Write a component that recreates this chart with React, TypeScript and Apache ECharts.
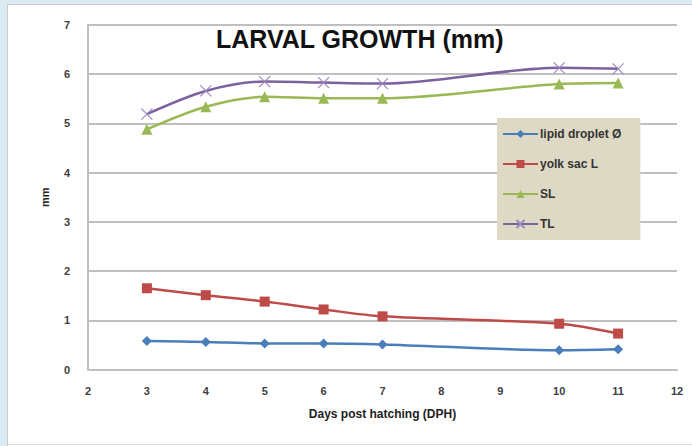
import React, { useEffect, useRef } from "react";
import * as echarts from "echarts";

const days = [3, 4, 5, 6, 7, 10, 11];
const lipidDroplet = [0.58, 0.56, 0.53, 0.53, 0.51, 0.39, 0.41];
const yolkSacL = [1.65, 1.51, 1.38, 1.22, 1.08, 0.93, 0.73];
const SL = [4.88, 5.34, 5.54, 5.51, 5.51, 5.80, 5.82];
const TL = [5.19, 5.66, 5.85, 5.83, 5.81, 6.13, 6.11];

const seriesNames = ["lipid droplet Ø", "yolk sac L", "SL", "TL"];
const xTicks = { min: 2, max: 12, interval: 1 };
const yTicks = { min: 0, max: 7, interval: 1 };

const pairs = (ys: number[]) => days.map((d, i) => [d, ys[i]]);

export default function App() {
  const ref = useRef<HTMLDivElement>(null);
  useEffect(() => {
    if (!ref.current) return;
    const chart = echarts.init(ref.current, null, { renderer: "svg" });
    const font = "Liberation Sans";
    const lineW = 2.5;
    chart.setOption({
      animation: false,
      backgroundColor: "#ffffff",
      title: {
        text: "LARVAL GROWTH (mm)",
        left: 211,
        top: 21,
        textStyle: { fontFamily: font, fontWeight: "bold", fontSize: 25, color: "#111111" },
      },
      graphic: [
        { type: "rect", shape: { x: 0, y: 0, width: 7, height: 446 }, style: { fill: "#DCEBF3" }, silent: true },
        { type: "rect", shape: { x: 0, y: 0, width: 692, height: 4 }, style: { fill: "#DCEBF3" }, silent: true },
        { type: "line", shape: { x1: 7.5, y1: 4.5, x2: 7.5, y2: 446 }, style: { stroke: "#C9C9C9", lineWidth: 1 }, silent: true },
        { type: "line", shape: { x1: 7.5, y1: 4.5, x2: 692, y2: 4.5 }, style: { stroke: "#C9C9C9", lineWidth: 1 }, silent: true },
        { type: "line", shape: { x1: 7.5, y1: 444.5, x2: 692, y2: 444.5 }, style: { stroke: "#D6D6D6", lineWidth: 1 }, silent: true },
      ],
      legend: {
        orient: "vertical",
        left: 497,
        top: 118,
        padding: [10, 19, 10, 5],
        backgroundColor: "#DDD9C4",
        itemWidth: 35,
        itemHeight: 10,
        itemGap: 18,
        data: seriesNames,
        textStyle: { fontFamily: font, fontSize: 12, fontWeight: "bold", color: "#333333", padding: [0, 0, 0, -3] },
      },
      grid: { left: 88, right: 15, top: 25, bottom: 76.5, containLabel: false },
      xAxis: {
        type: "value",
        min: xTicks.min,
        max: xTicks.max,
        interval: xTicks.interval,
        name: "Days post hatching (DPH)",
        nameLocation: "middle",
        nameGap: 38,
        nameTextStyle: { fontFamily: font, fontSize: 12, fontWeight: "bold", color: "#222222" },
        axisLine: { show: true, lineStyle: { color: "#BFBFBF", width: 2 } },
        axisTick: { show: false },
        splitLine: { show: false },
        axisLabel: { margin: 16, fontFamily: font, fontSize: 11, fontWeight: "bold", color: "#404040" },
      },
      yAxis: {
        type: "value",
        min: yTicks.min,
        max: yTicks.max,
        interval: yTicks.interval,
        name: "mm",
        nameLocation: "middle",
        nameGap: 38,
        nameRotate: 90,
        nameTextStyle: { fontFamily: font, fontSize: 11, fontWeight: "bold", color: "#222222" },
        axisLine: { show: true, lineStyle: { color: "#BFBFBF", width: 2 } },
        axisTick: { show: false },
        splitLine: { show: true, lineStyle: { color: "#BFBFBF", width: 2 } },
        axisLabel: { margin: 18, fontFamily: font, fontSize: 11, fontWeight: "bold", color: "#404040" },
      },
      series: [
        {
          name: seriesNames[0],
          type: "line",
          data: pairs(lipidDroplet),
          smooth: 0.3,
          symbol: "diamond",
          symbolSize: 10,
          lineStyle: { color: "#4A7EBB", width: lineW },
          itemStyle: { color: "#4A7EBB" },
        },
        {
          name: seriesNames[1],
          type: "line",
          data: pairs(yolkSacL),
          smooth: 0.3,
          symbol: "rect",
          symbolSize: 10,
          lineStyle: { color: "#BE4B48", width: lineW },
          itemStyle: { color: "#BE4B48" },
        },
        {
          name: seriesNames[2],
          type: "line",
          data: pairs(SL),
          smooth: 0.3,
          symbol: "triangle",
          symbolSize: 11,
          lineStyle: { color: "#98B954", width: lineW },
          itemStyle: { color: "#98B954" },
        },
        {
          name: seriesNames[3],
          type: "line",
          data: pairs(TL),
          smooth: 0.3,
          symbol: "path://M0,0L10,10M10,0L0,10",
          symbolSize: 11,
          lineStyle: { color: "#7D60A0", width: lineW },
          itemStyle: { color: "#7D60A0", borderColor: "#9C88BC", borderWidth: 1.2 },
        },
      ],
    });
    return () => chart.dispose();
  }, []);
  return (
    <div style={{ position: "fixed", left: 0, top: 0, width: 692, height: 446 }}>
      <div ref={ref} style={{ width: 692, height: 446 }} />
    </div>
  );
}
